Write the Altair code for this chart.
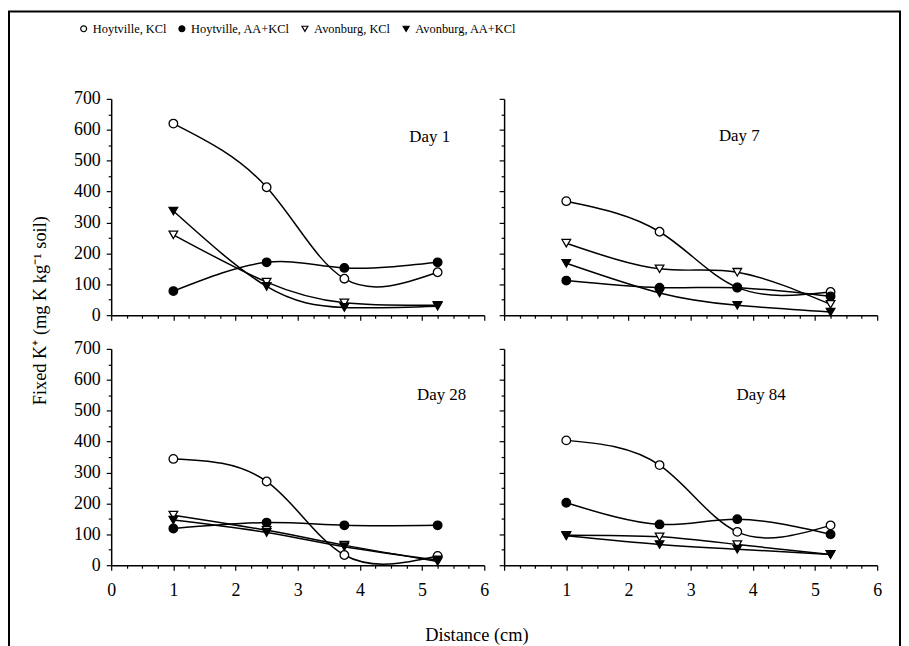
import altair as alt
import pandas as pd

days = ["Day 1", "Day 7", "Day 28", "Day 84"]
series = ["Hoytville, KCl", "Hoytville, AA+KCl", "Avonburg, KCl", "Avonburg, AA+KCl"]
distance = [1.0, 2.5, 3.75, 5.25]

# Day 1
d1_hoyt_kcl = [620, 414, 118, 139]
d1_hoyt_aa = [78, 171, 153, 171]
d1_avon_kcl = [260, 107, 40, 32]
d1_avon_aa = [337, 93, 25, 29]
# Day 7
d7_hoyt_kcl = [369, 270, 90, 75]
d7_hoyt_aa = [112, 89, 89, 61]
d7_avon_kcl = [233, 150, 139, 35]
d7_avon_aa = [168, 72, 32, 10]
# Day 28
d28_hoyt_kcl = [344, 271, 33, 30]
d28_hoyt_aa = [119, 138, 129, 129]
d28_avon_kcl = [162, 113, 65, 12]
d28_avon_aa = [146, 106, 60, 17]
# Day 84
d84_hoyt_kcl = [404, 324, 108, 129]
d84_hoyt_aa = [202, 132, 149, 100]
d84_avon_kcl = [97, 92, 67, 35]
d84_avon_aa = [95, 67, 52, 35]

table = {
    "Day 1": [d1_hoyt_kcl, d1_hoyt_aa, d1_avon_kcl, d1_avon_aa],
    "Day 7": [d7_hoyt_kcl, d7_hoyt_aa, d7_avon_kcl, d7_avon_aa],
    "Day 28": [d28_hoyt_kcl, d28_hoyt_aa, d28_avon_kcl, d28_avon_aa],
    "Day 84": [d84_hoyt_kcl, d84_hoyt_aa, d84_avon_kcl, d84_avon_aa],
}

rows = []
for day in days:
    for s, vals in zip(series, table[day]):
        for dist, v in zip(distance, vals):
            rows.append({"day": day, "series": s, "distance": dist, "value": v})
df = pd.DataFrame(rows)

x_ticks = [i * 0.25 for i in range(25)]
y_ticks = list(range(0, 701, 50))

FONT = "Liberation Serif"
W, H = 376, 218

legend = alt.Legend(
    title=None, orient="none", direction="horizontal", columns=4,
    legendX=-34, legendY=-77, labelFont=FONT, labelFontSize=12.5, labelColor="black",
    symbolSize=36, symbolStrokeColor="black", symbolStrokeWidth=1.2,
    labelOffset=3, columnPadding=9,
)
shape_scale = alt.Scale(domain=series, range=["circle", "circle", "triangle-down", "triangle-down"])
fill_scale = alt.Scale(domain=series, range=["white", "black", "white", "black"])
stroke_scale = alt.Scale(domain=series, range=["black", "black", "black", "black"])

tick_size = {"condition": {"test": "datum.value % 1 === 0", "value": 5}, "value": 3}
ytick_size = {"condition": {"test": "datum.value % 100 === 0", "value": 5}, "value": 3}


def panel(day, show_x, show_y, lx, ly, x_title=None, y_title=None, frame=False, left=True):
    min_lab = "0" if left else "0.5"
    xaxis_kw = dict(values=x_ticks, labels=show_x, tickSize=tick_size, labelOverlap=False,
                    labelFlush=False,
                    labelExpr="datum.value % 1 === 0 && datum.value >= " + min_lab
                              + " ? format(datum.value, 'd') : ''",
                    labelPadding=12)
    if x_title:
        xaxis_kw.update(title=x_title, titleX=368, titleY=70, titleBaseline="middle", titleAlign="center")
    else:
        xaxis_kw.update(title=None)
    yaxis_kw = dict(values=y_ticks, labels=show_y, tickSize=ytick_size, labelOverlap=False,
                    labelExpr="datum.value % 100 === 0 ? format(datum.value, 'd') : ''",
                    labelPadding=6)
    if y_title:
        yaxis_kw.update(title=y_title, titleX=-72, titleY=213, titleBaseline="middle", titleAlign="center")
    else:
        yaxis_kw.update(title=None)

    x = alt.X("distance:Q", scale=alt.Scale(domain=[0, 6], nice=False, zero=False), axis=alt.Axis(**xaxis_kw))
    y = alt.Y("value:Q", scale=alt.Scale(domain=[0, 700], nice=False), axis=alt.Axis(**yaxis_kw))

    base = alt.Chart(df).transform_filter(alt.datum.day == day)
    lines = base.mark_line(interpolate="natural", color="black", strokeWidth=1.5, clip=True).encode(
        x=x, y=y, detail="series:N")
    points = base.mark_point(filled=False, size=75, strokeWidth=1.3, opacity=1).encode(
        x=x, y=y,
        shape=alt.Shape("series:N", scale=shape_scale, legend=legend),
        fill=alt.Fill("series:N", scale=fill_scale, legend=legend),
        stroke=alt.Stroke("series:N", scale=stroke_scale, legend=legend),
    )
    label = alt.Chart(pd.DataFrame({"label": [day]})).mark_text(
        font=FONT, fontSize=17, color="black", align="center", baseline="middle").encode(
        text="label:N", x=alt.value(lx), y=alt.value(ly))
    layers = [lines, points, label]
    if frame:
        box = alt.Chart(alt.Data(values=[{}])).mark_rect(
            filled=False, stroke="black", strokeWidth=2, clip=False).encode(
            x=alt.value(-103), x2=alt.value(795), y=alt.value(-88), y2=alt.value(570))
        layers.append(box)
    return alt.layer(*layers).properties(width=W, height=H)


p1 = panel("Day 1", False, True, 321, 38, y_title="Fixed K\u207a (mg K kg\u207b\u00b9 soil)", frame=True)
p2 = panel("Day 7", False, False, 237, 37, left=False)
p3 = panel("Day 28", True, True, 333, 46, x_title="Distance (cm)")
p4 = panel("Day 84", True, False, 259, 46, left=False)

chart = alt.concat(p1, p2, p3, p4, columns=2, spacing={"row": 34, "column": 20}, bounds="flush").properties(
    padding=0
).configure_view(stroke=None).configure_axis(
    grid=False, domainColor="black", domainWidth=1.5, tickColor="black", tickWidth=1.2,
    labelFont=FONT, labelFontSize=18, labelColor="black",
    titleFont=FONT, titleFontSize=18.5, titleFontWeight="normal", titleColor="black",
)

chart.save("out.html", embed_options={"renderer": "svg", "actions": False})
